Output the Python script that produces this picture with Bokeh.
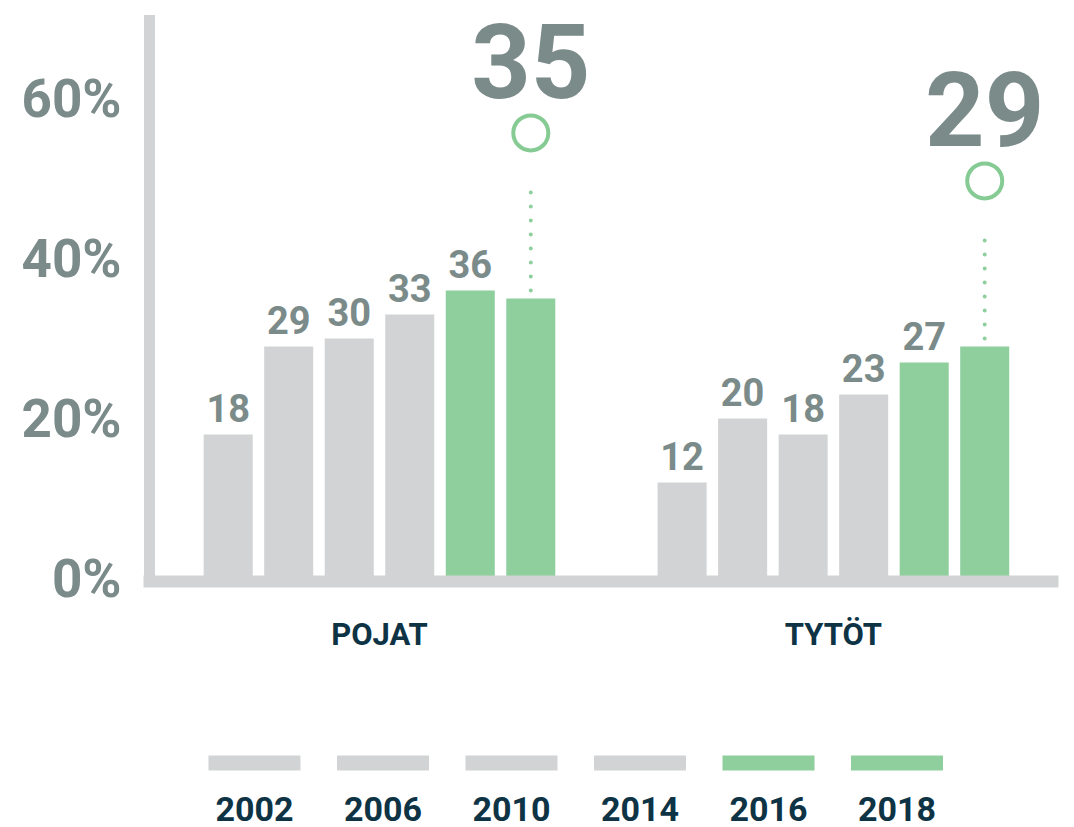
from bokeh.plotting import figure
from bokeh.models import Range1d, FixedTicker, Label
from bokeh.layouts import column
from bokeh.embed import file_html
from bokeh.resources import INLINE
from bokeh.core.properties import value

# ---- data ----
groups = ["POJAT", "TYTÖT"]
years = ["2002", "2006", "2010", "2014", "2016", "2018"]
pojat = [18, 29, 30, 33, 36, 35]
tytot = [12, 20, 18, 23, 27, 29]
highlight_years = ["2016", "2018"]
y_ticks = [0, 20, 40, 60]
y_tick_labels = ["0%", "20%", "40%", "60%"]

# ---- style ----
GRAY = "#d1d3d4"
GREEN = "#8fce9d"
TEXT_GRAY = "#7b8b8a"
NAVY = "#0d3345"
FONT = "Roboto"
GROUP_STEP = 7.5
BL, BR = 149, 22

series = [pojat, tytot]
xs, tops, colors = [], [], []
lab_x, lab_y, lab_t = [], [], []
last_x, last_v = [], []
for gi, vals in enumerate(series):
    for yi, v in enumerate(vals):
        x = gi * GROUP_STEP + yi
        xs.append(x)
        tops.append(v)
        colors.append(GREEN if years[yi] in highlight_years else GRAY)
        if yi < len(years) - 1:
            lab_x.append(x); lab_y.append(v); lab_t.append(str(v))
        else:
            last_x.append(x); last_v.append(v)

p = figure(width=1074, height=670,
           x_range=Range1d(-1.30, 13.62), y_range=Range1d(-0.375, 69.75),
           output_backend="svg", toolbar_location=None,
           min_border_left=BL, min_border_right=BR, min_border_top=20,
           min_border_bottom=89)
p.outline_line_color = None
p.grid.visible = False

p.vbar(x=xs, top=tops, bottom=0, width=0.81, fill_color=colors, line_color=None)

p.text(x=lab_x, y=lab_y, text=lab_t, y_offset=-27, text_align="center",
       text_baseline="alphabetic", text_font=value(FONT), text_font_style="bold",
       text_font_size="38px", text_color=TEXT_GRAY)

# dotted leader, circle and big number for the latest year
p.segment(x0=last_x, y0=[v + 1 for v in last_v], x1=last_x, y1=[v + 15 for v in last_v],
          line_color=GREEN, line_width=4, line_dash="0 14", line_cap="round")
p.scatter(x=last_x, y=[v + 20.7 for v in last_v], marker="circle", size=35,
          fill_color="white", line_color="#86cb94", line_width=4)
for x, v in zip(last_x, last_v):
    p.add_layout(Label(x=x, y=v + 29.7, text=str(v), text_align="center",
                       text_baseline="alphabetic", text_font=FONT,
                       text_font_style="bold", text_font_size="104px",
                       text_color=TEXT_GRAY))

# axes
p.yaxis.ticker = FixedTicker(ticks=y_ticks)
p.yaxis.major_label_overrides = {t: l for t, l in zip(y_ticks, y_tick_labels)}
p.xaxis.ticker = FixedTicker(ticks=[gi * GROUP_STEP + (len(years) - 1) / 2 for gi in range(len(groups))])
p.xaxis.major_label_overrides = {gi * GROUP_STEP + (len(years) - 1) / 2: g for gi, g in enumerate(groups)}
for ax in (p.xaxis, p.yaxis):
    ax.axis_line_color = GRAY
    ax.axis_line_cap = "square"
    ax.major_tick_line_color = None
    ax.minor_tick_line_color = None
    ax.major_label_text_font = FONT
    ax.major_label_text_font_style = "bold"
p.yaxis.axis_line_width = 11
p.xaxis.axis_line_width = 12
p.yaxis.major_label_text_font_size = "53px"
p.yaxis.major_label_text_color = TEXT_GRAY
p.yaxis.major_label_standoff = 22
p.xaxis.major_label_text_font_size = "31px"
p.xaxis.major_label_text_color = NAVY
p.xaxis.major_label_standoff = 28

# ---- legend figure ----
lf = figure(width=1074, height=157,
            x_range=Range1d(-0.817, 6.210), y_range=Range1d(0, 157),
            output_backend="svg", toolbar_location=None,
            x_axis_location=None, y_axis_location=None,
            min_border_left=BL, min_border_right=BR, min_border_top=0, min_border_bottom=0)
lf.outline_line_color = None
lf.grid.visible = False
lx = list(range(len(years)))
lcol = [GREEN if y in highlight_years else GRAY for y in years]
lf.rect(x=lx, y=[64.5] * len(years), width=92, height=15, width_units="screen",
        height_units="screen", fill_color=lcol, line_color=None)
lf.text(x=lx, y=[19] * len(years), text=years, text_align="center",
        text_baseline="alphabetic", text_font=value(FONT), text_font_style="bold",
        text_font_size="34px", text_color=NAVY)

layout = column(p, lf, spacing=0)
open("out.html", "w").write(file_html(layout, INLINE))
